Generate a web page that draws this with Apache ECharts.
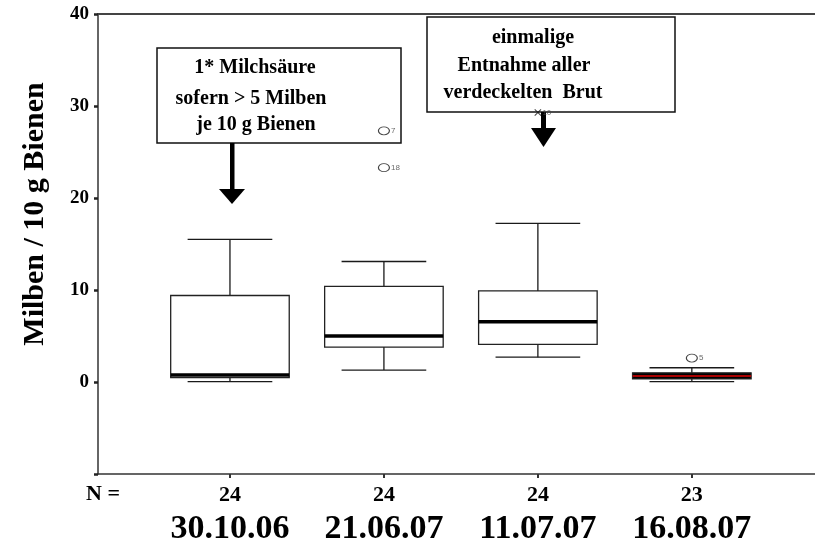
<!DOCTYPE html>
<html>
<head>
<meta charset="utf-8">
<script src="https://cdn.jsdelivr.net/npm/echarts@6/dist/echarts.min.js"></script>
<style>
  html, body { margin: 0; padding: 0; background: #fff; }
  #chart { width: 815px; height: 544px; }
</style>
</head>
<body>
<div id="chart"></div>
<script>
// Sampling dates and number of colonies per date
const dates = ['30.10.06', '21.06.07', '11.07.07', '16.08.07'];
const nColonies = [24, 24, 24, 23];

// Box plot statistics: mites per 10 g bees
const whiskerLow = [0.03, 1.3, 2.7, 0.03];
const quartile1 = [0.47, 3.8, 4.1, 0.33];
const medians = [0.76, 5.0, 6.55, 0.65];
const quartile3 = [9.4, 10.4, 9.9, 1.0];
const whiskerHigh = [15.5, 13.1, 17.25, 1.55];

// Outliers (circles) and extreme values (crosses): [group, value, case number]
const outliers = [[2, 27.3, '7'], [2, 23.3, '18'], [4, 2.6, '5']];
const extremes = [[3, 29.3, '10']];

// Y axis range
const yMin = -10, yMax = 40, yStep = 10;

const boxRows = dates.map((d, i) => [i + 1, whiskerLow[i], quartile1[i], medians[i], quartile3[i], whiskerHigh[i]]);

const SERIF = '"Liberation Serif", "Times New Roman", serif';
const lastGroup = dates.length - 1;

function renderBox(params, api) {
  const x = api.value(0);
  const lo = api.coord([x, api.value(1)]);
  const q1 = api.coord([x, api.value(2)]);
  const md = api.coord([x, api.value(3)]);
  const q3 = api.coord([x, api.value(4)]);
  const hi = api.coord([x, api.value(5)]);
  const unit = api.size([1, 0])[0];
  const bw = unit * 0.77;
  const cw = unit * 0.55;
  const cx = lo[0];
  const filled = params.dataIndex === lastGroup;
  const line = { stroke: '#1a1a1a', lineWidth: 1.3 };
  return {
    type: 'group',
    children: [
      { type: 'line', shape: { x1: cx, y1: hi[1], x2: cx, y2: q3[1] }, style: line },
      { type: 'line', shape: { x1: cx, y1: lo[1], x2: cx, y2: q1[1] }, style: line },
      { type: 'line', shape: { x1: cx - cw / 2, y1: hi[1], x2: cx + cw / 2, y2: hi[1] }, style: line },
      { type: 'line', shape: { x1: cx - cw / 2, y1: lo[1], x2: cx + cw / 2, y2: lo[1] }, style: line },
      { type: 'rect', shape: { x: cx - bw / 2, y: q3[1], width: bw, height: q1[1] - q3[1] },
        style: { fill: filled ? '#000' : '#fff', stroke: '#222', lineWidth: 1.3 } },
      { type: 'line', shape: { x1: cx - bw / 2, y1: md[1], x2: cx + bw / 2, y2: md[1] },
        style: { stroke: filled ? '#e00000' : '#000', lineWidth: filled ? 1.6 : 3.5 } }
    ]
  };
}

const chart = echarts.init(document.getElementById('chart'), null, { renderer: 'canvas' });

const noteFont = 'bold 20px ' + SERIF;
const centered = { fill: '#000', textAlign: 'center', textVerticalAlign: 'middle' };

chart.setOption({
  backgroundColor: '#fff',
  animation: false,
  grid: { left: 98, top: 14, right: 0, bottom: 70, outerBoundsMode: 'none' },
  xAxis: [
    {
      type: 'value', min: 1 / 7, max: 4.8,
      splitLine: { show: false },
      axisLine: { show: true, onZero: false, lineStyle: { color: '#333', width: 1.5 } },
      axisTick: { show: true, customValues: [1, 2, 3, 4], length: 4, inside: false,
                  lineStyle: { color: '#333', width: 2 } },
      axisLabel: {
        show: true, customValues: [1, 2, 3, 4], margin: 8,
        formatter: v => {
          const i = Math.round(v) - 1;
          return '{n|' + nColonies[i] + '}\n{d|' + dates[i] + '}';
        },
        rich: {
          n: { fontFamily: SERIF, fontWeight: 'bold', fontSize: 22, lineHeight: 26, color: '#000' },
          d: { fontFamily: SERIF, fontWeight: 'bold', fontSize: 34, lineHeight: 42, color: '#000' }
        }
      }
    },
    {
      type: 'value', position: 'top', min: 1 / 7, max: 4.8,
      splitLine: { show: false }, axisTick: { show: false }, axisLabel: { show: false },
      axisLine: { show: true, onZero: false, lineStyle: { color: '#444', width: 2 } }
    }
  ],
  yAxis: {
    type: 'value', min: yMin, max: yMax, interval: yStep,
    name: 'Milben / 10 g Bienen', nameLocation: 'middle', nameGap: 48,
    nameTextStyle: { fontFamily: SERIF, fontWeight: 'bold', fontSize: 30, color: '#000', padding: [0, 0, 0, 60] },
    splitLine: { show: false },
    axisLine: { show: true, lineStyle: { color: '#333', width: 1.5 } },
    axisTick: { show: true, length: 4, lineStyle: { color: '#222', width: 2.5 } },
    axisLabel: {
      margin: 9, fontFamily: SERIF, fontWeight: 'bold', fontSize: 19, color: '#000',
      formatter: v => (v < 0 ? '' : String(v))
    }
  },
  series: [
    {
      type: 'custom', renderItem: renderBox, data: boxRows, z: 3,
      encode: { x: 0, y: [1, 2, 3, 4, 5] }
    },
    {
      type: 'scatter', data: outliers, symbol: 'circle', symbolSize: [11, 8], z: 4,
      itemStyle: { color: '#fff', borderColor: '#111', borderWidth: 1 },
      label: { show: true, position: 'right', distance: 1, formatter: p => p.value[2],
               fontFamily: 'Arial, "Liberation Sans", sans-serif', fontSize: 8, color: '#444' }
    },
    {
      type: 'scatter', data: extremes, z: 4,
      symbol: 'path://M0,1L1,0L5,4L9,0L10,1L6,5L10,9L9,10L5,6L1,10L0,9L4,5Z', symbolSize: 7,
      itemStyle: { color: '#111' },
      label: { show: true, position: 'right', distance: 1, formatter: p => p.value[2],
               fontFamily: 'Arial, "Liberation Sans", sans-serif', fontSize: 8, color: '#444' }
    }
  ],
  graphic: [
    // "N =" row heading
    { type: 'text', left: 86, top: 483,
      style: { text: 'N =', font: 'bold 22px ' + SERIF, fill: '#000' } },
    // Treatment note for the first date
    { type: 'rect', shape: { x: 157, y: 48, width: 244, height: 95 }, z: 1,
      style: { fill: '#fff', stroke: '#111', lineWidth: 1.5 } },
    { type: 'text', x: 255, y: 68, z: 1,
      style: Object.assign({ text: '1* Milchsäure', font: noteFont }, centered) },
    { type: 'text', x: 251, y: 99, z: 1,
      style: Object.assign({ text: 'sofern > 5 Milben', font: noteFont }, centered) },
    { type: 'text', x: 256, y: 125, z: 1,
      style: Object.assign({ text: 'je 10 g Bienen', font: noteFont }, centered) },
    { type: 'rect', shape: { x: 230, y: 143, width: 4.5, height: 47 }, z: 1, style: { fill: '#000' } },
    { type: 'polygon', shape: { points: [[219, 189], [245, 189], [232, 204]] }, z: 1, style: { fill: '#000' } },
    // Brood removal note for the third date
    { type: 'rect', shape: { x: 427, y: 17, width: 248, height: 95 }, z: 1,
      style: { fill: '#fff', stroke: '#111', lineWidth: 1.5 } },
    { type: 'text', x: 533, y: 38, z: 1,
      style: Object.assign({ text: 'einmalige', font: noteFont }, centered) },
    { type: 'text', x: 524, y: 66, z: 1,
      style: Object.assign({ text: 'Entnahme aller', font: noteFont }, centered) },
    { type: 'text', x: 523, y: 93, z: 1,
      style: Object.assign({ text: 'verdeckelten  Brut', font: noteFont }, centered) },
    { type: 'rect', shape: { x: 541, y: 112, width: 5, height: 17 }, z: 1, style: { fill: '#000' } },
    { type: 'polygon', shape: { points: [[531, 128], [556, 128], [543.5, 147]] }, z: 1, style: { fill: '#000' } }
  ]
});
</script>
</body>
</html>
